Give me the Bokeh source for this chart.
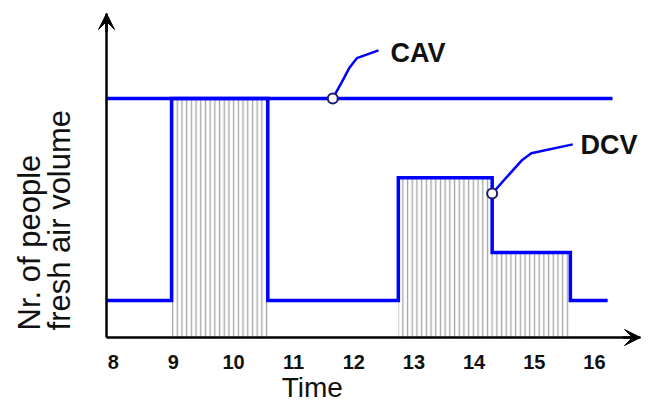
import math
from bokeh.plotting import figure
from bokeh.models import Range1d, FixedTicker, Label, Arrow, VeeHead, LinearAxis
from bokeh.embed import file_html
from bokeh.resources import INLINE

# ---- data ----
hour_ticks = [8, 9, 10, 11, 12, 13, 14, 15, 16]
tick_labels = {h: str(h) for h in hour_ticks}

cav_x = [7.89, 16.30]
cav_y = [6.46, 6.46]

dcv_x = [7.89, 8.97, 10.57, 12.74, 14.30, 15.60, 16.22]
dcv_y = [1.0, 6.46, 1.0, 4.32, 2.30, 1.0, 1.0]

occ_start = [8.97, 12.74, 14.30]
occ_end = [10.57, 14.30, 15.60]
occ_level = [6.46, 4.32, 2.30]

cav_leader_x = [11.65, 11.80, 11.93, 12.05, 12.41]
cav_leader_y = [6.46, 6.90, 7.30, 7.55, 7.76]
dcv_leader_x = [14.30, 14.55, 14.80, 14.95, 15.64]
dcv_leader_y = [3.89, 4.35, 4.80, 4.98, 5.22]

# axis extents (origin and arrow tips)
x_origin, x_tip = 7.889, 16.766
y_origin, y_tip = 0.0, 8.757

FONT = "Liberation Sans"
BLUE = "#0000ff"

p = figure(width=648, height=405,
           x_range=Range1d(6.126, 16.899), y_range=Range1d(-1.838, 9.108),
           output_backend="svg", toolbar_location=None,
           x_axis_location=None, y_axis_location=None, min_border=0)
p.outline_line_color = None
p.grid.visible = False
p.background_fill_color = "white"

# x axis, pinned at y = 0
xa = LinearAxis(fixed_location=y_origin, bounds=(x_origin, x_tip))
xa.ticker = FixedTicker(ticks=hour_ticks)
xa.major_label_overrides = tick_labels
xa.major_tick_out = 0
xa.major_tick_in = 0
xa.minor_tick_line_color = None
xa.axis_line_width = 2.5
xa.axis_line_color = "black"
xa.major_label_text_font = FONT
xa.major_label_text_font_style = "bold"
xa.major_label_text_font_size = "20px"
xa.major_label_text_color = "#111111"
xa.major_label_standoff = 18
p.add_layout(xa, "below")

# y axis (line only), pinned at x origin
ya = LinearAxis(fixed_location=x_origin, bounds=(y_origin, y_tip))
ya.ticker = FixedTicker(ticks=[])
ya.major_tick_out = 0
ya.major_tick_in = 0
ya.minor_tick_line_color = None
ya.axis_line_width = 2.5
ya.axis_line_color = "black"
p.add_layout(ya, "left")

# occupancy hatch
p.quad(left=occ_start, right=occ_end, bottom=0, top=occ_level,
       fill_color="white", line_color=None,
       hatch_pattern="vertical_line", hatch_color="#a8a8a8",
       hatch_weight=1.4, hatch_scale=4.7)

# CAV and DCV lines
p.line(cav_x, cav_y, line_color=BLUE, line_width=3.5)
p.step(dcv_x, dcv_y, mode="after", line_color=BLUE, line_width=3.5,
       line_join="miter")

# leaders
p.line(cav_leader_x, cav_leader_y, line_color=BLUE, line_width=2.5)
p.line(dcv_leader_x, dcv_leader_y, line_color=BLUE, line_width=2.5)
p.scatter([cav_leader_x[0], dcv_leader_x[0]], [cav_leader_y[0], dcv_leader_y[0]],
          size=10, fill_color="white", line_color="#1a1a70", line_width=2)

p.add_layout(Label(x=12.61, y=7.70, text="CAV", text_font=FONT,
                   text_font_style="bold", text_font_size="27px",
                   text_color="#111111", text_baseline="alphabetic"))
p.add_layout(Label(x=15.77, y=5.19, text="DCV", text_font=FONT,
                   text_font_style="bold", text_font_size="27px",
                   text_color="#111111", text_baseline="alphabetic"))

# axis arrow heads
p.add_layout(Arrow(end=VeeHead(size=16, fill_color="black", line_color="black"),
                   x_start=x_tip - 0.3, y_start=y_origin, x_end=x_tip, y_end=y_origin,
                   line_width=2.5, line_color="black"))
p.add_layout(Arrow(end=VeeHead(size=16, fill_color="black", line_color="black"),
                   x_start=x_origin, y_start=y_tip - 0.5, x_end=x_origin, y_end=y_tip,
                   line_width=2.5, line_color="black"))

# axis titles
p.add_layout(Label(x=6.60, y=0.19, text="Nr. of people", angle=math.pi / 2,
                   text_font=FONT, text_font_size="31px", text_color="#111111",
                   text_align="left", text_baseline="alphabetic"))
p.add_layout(Label(x=7.10, y=0.19, text="fresh air volume", angle=math.pi / 2,
                   text_font=FONT, text_font_size="31px", text_color="#111111",
                   text_align="left", text_baseline="alphabetic"))
p.add_layout(Label(x=10.80, y=-1.36, text="Time", text_font=FONT,
                   text_font_size="28px", text_color="#111111",
                   text_baseline="alphabetic"))

open("out.html", "w").write(file_html(p, INLINE))
